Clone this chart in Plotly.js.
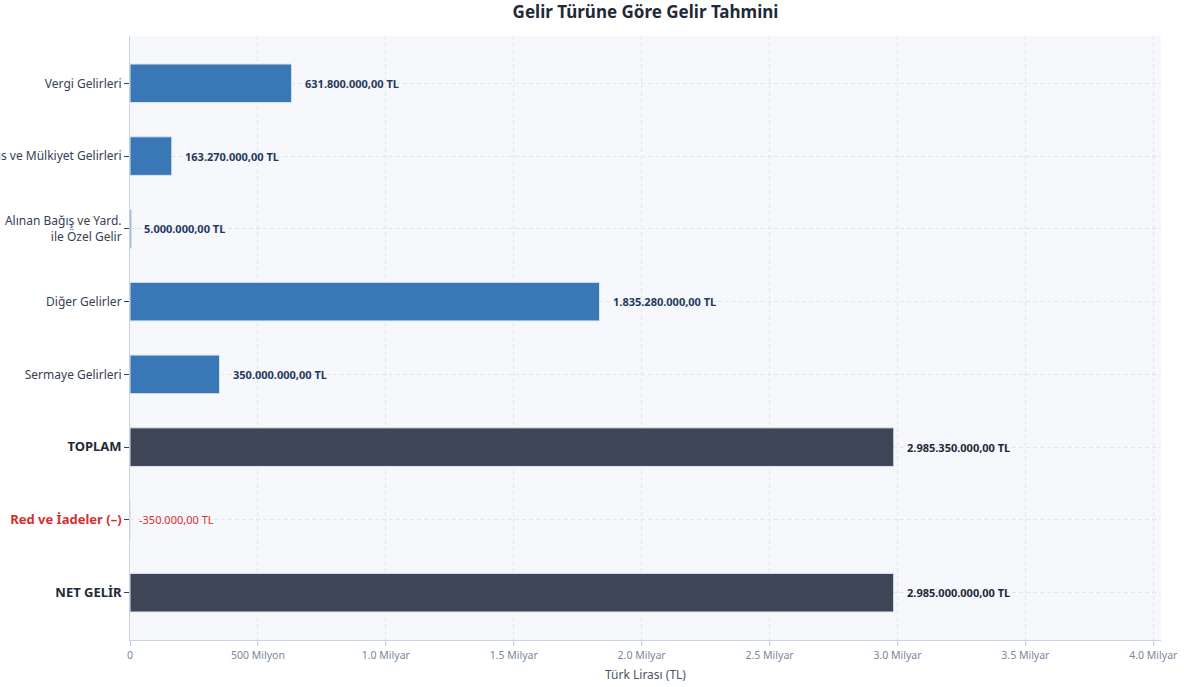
<!DOCTYPE html>
<html>
<head>
<meta charset="utf-8">
<script src="https://cdn.plot.ly/plotly-3.0.1.min.js"></script>
<style>html,body{margin:0;padding:0;background:#fff;}#chart{width:1184px;height:687px;}</style>
</head>
<body>
<div id="chart"></div>
<script>
const categories = ["Vergi Gelirleri", "Teşebbüs ve Mülkiyet Gelirleri", "Alınan Bağış ve Yard.<br>ile Özel Gelir", "Diğer Gelirler", "Sermaye Gelirleri", "TOPLAM", "Red ve İadeler (–)", "NET GELİR"];
const values = [631800000, 163270000, 5000000, 1835280000, 350000000, 2985350000, -350000, 2985000000];
const valueLabels = ["631.800.000,00 TL", "163.270.000,00 TL", "5.000.000,00 TL", "1.835.280.000,00 TL", "350.000.000,00 TL", "2.985.350.000,00 TL", "-350.000,00 TL", "2.985.000.000,00 TL"];
const rowKinds = ["item", "item", "item", "item", "item", "total", "minus", "total"];
const xTickVals = [0, 500000000, 1000000000, 1500000000, 2000000000, 2500000000, 3000000000, 3500000000, 4000000000];
const xTickText = ["0", "500 Milyon", "1.0 Milyar", "1.5 Milyar", "2.0 Milyar", "2.5 Milyar", "3.0 Milyar", "3.5 Milyar", "4.0 Milyar"];

const barColor = {item: "#3a77b7", total: "#3d4556", minus: "#d32f2f"};
const textColor = {item: "#1e3a5f", total: "#1f2937", minus: "#d32f2f"};

const ticktext = categories.map((c, i) => {
  const k = rowKinds[i];
  if (k === "total") return "<b><span style='font-size:13px;color:#1f2937'>" + c + "</span></b>";
  if (k === "minus") return "<b><span style='font-size:13px;color:#d32f2f'>" + c + "</span></b>";
  return c;
});
const ids = categories.map((c, i) => "c" + i);

const trace = {
  type: "bar",
  orientation: "h",
  y: ids,
  x: values,
  width: 0.53,
  marker: {color: rowKinds.map(k => barColor[k]), line: {color: "#dbe5f1", width: 1}},
  hoverinfo: "none"
};

const annotations = values.map((v, i) => ({
  x: Math.max(v, 0),
  y: ids[i],
  xref: "x", yref: "y",
  text: rowKinds[i] === "minus" ? valueLabels[i] : "<b>" + valueLabels[i] + "</b>",
  showarrow: false,
  xanchor: "left",
  xshift: rowKinds[i] === "minus" ? 7 : 11,
  font: {family: "Noto Sans", size: 11, color: textColor[rowKinds[i]]}
}));

const layout = {
  width: 1184, height: 687,
  paper_bgcolor: "#ffffff",
  plot_bgcolor: "#f7f8fc",
  margin: {l: 130, r: 23, t: 36, b: 47},
  title: {text: "<b>Gelir Türüne Göre Gelir Tahmini</b>", x: 0.5, xref: "paper", xanchor: "center", y: 0.982, yref: "container", yanchor: "middle",
          font: {family: "Noto Sans", size: 17, color: "#1f2937"}},
  font: {family: "Noto Sans", color: "#374151"},
  showlegend: false,
  xaxis: {
    range: [0, 4030000000],
    tickvals: xTickVals, ticktext: xTickText,
    tickfont: {family: "Noto Sans", size: 10.5, color: "#7a879c"},
    ticks: "outside", ticklen: 5, tickcolor: "#c5d0e0",
    showgrid: true, gridcolor: "#e1e5ec", griddash: "4px,3px", gridwidth: 1,
    zeroline: false,
    showline: true, linecolor: "#c8d3e3", linewidth: 1,
    title: {text: "Türk Lirası (TL)", standoff: 10, font: {family: "Noto Sans", size: 12, color: "#4b5563"}},
    fixedrange: true
  },
  yaxis: {
    type: "category",
    range: [7.65, -0.65],
    tickvals: ids, ticktext: ticktext,
    tickfont: {family: "Noto Sans", size: 12, color: "#374151"},
    ticks: "outside", ticklen: 5, tickcolor: "#374151",
    showgrid: true, gridcolor: "#e1e5ec", griddash: "4px,3px", gridwidth: 1,
    showline: true, linecolor: "#c8d3e3", linewidth: 1,
    automargin: false,
    fixedrange: true
  },
  annotations: annotations
};

Plotly.newPlot("chart", [trace], layout, {displayModeBar: false, staticPlot: true});
</script>
</body>
</html>
